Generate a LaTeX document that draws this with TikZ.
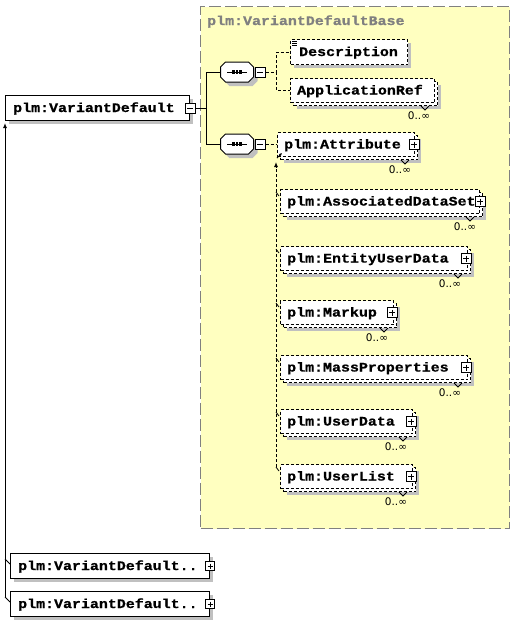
\documentclass[tikz,border=0pt]{standalone}
\usepackage{fontspec}
\newfontfamily\monof[FakeStretch=1.15,FakeBold=0.8]{Liberation Mono}
\newfontfamily\cardf{DejaVu Sans}
\usetikzlibrary{arrows.meta}
\definecolor{yel}{RGB}{255,255,192}
\definecolor{gry}{RGB}{128,128,128}
\definecolor{shd}{RGB}{192,192,192}
\tikzset{
 elbox/.style={draw, fill=white, line width=1pt, inner sep=0pt, anchor=north west, rectangle},
 delbox/.style={elbox, dash pattern=on 3pt off 2pt},
 eltext/.style={font={\fontsize{13}{15}\selectfont\monof\bfseries}, inner sep=0pt, anchor=base west},
 card/.style={font={\fontsize{10.5}{11}\selectfont\cardf}, inner sep=0pt},
 plusb/.style={draw, fill=white, solid, line width=0.8pt, minimum size=#1, inner sep=0pt,
   path picture={\draw[line width=0.8pt] ([xshift=2pt]path picture bounding box.west) -- ([xshift=-2pt]path picture bounding box.east)
   ([yshift=-2pt]path picture bounding box.north) -- ([yshift=2pt]path picture bounding box.south);}},
 plusb/.default=10pt,
 minusb/.style={draw, fill=white, solid, line width=0.8pt, minimum size=10pt, inner sep=0pt,
   path picture={\draw[line width=0.8pt] ([xshift=2pt]path picture bounding box.west) -- ([xshift=-2pt]path picture bounding box.east);}},
 seqbox/.style={rectangle, minimum width=33pt, minimum height=20pt, inner sep=0pt},
 conn/.style={line width=1pt},
 dconn/.style={line width=1pt, dash pattern=on 3pt off 2pt},
 tip/.style={-{Latex[length=5pt,width=4pt]}},
}
\newcommand\octa[2]{% #1 centre node, #2 offset
 ([shift={(-16.5+#2,-5+#2)}]#1.center) -- ([shift={(-11.5+#2,-10+#2)}]#1.center) --
 ([shift={(11.5+#2,-10+#2)}]#1.center) -- ([shift={(16.5+#2,-5+#2)}]#1.center) --
 ([shift={(16.5+#2,5+#2)}]#1.center) -- ([shift={(11.5+#2,10+#2)}]#1.center) --
 ([shift={(-11.5+#2,10+#2)}]#1.center) -- ([shift={(-16.5+#2,5+#2)}]#1.center) -- cycle}
\newcommand\multel[6]{%
 \fill[shd] (#2+7,#3+7) rectangle ++(#4,24);
 \node[delbox, minimum width=#4pt, minimum height=24pt] (#1b) at (#2+3,#3+3) {};
 \node[delbox, minimum width=#4pt, minimum height=24pt] (#1) at (#2,#3) {};
 \node[eltext] (#1t) at ([shift={(7,4)}]#1.west) {#5};
 \draw[line width=0.8pt] ([xshift=-17pt]#1b.south east) -- ++(4,4) -- ++(4,-4);
 \node[card] (#1c) at (#6,#3+38) {0..∞};
}
\newcommand\seqsymbol[3]{%
 \node[seqbox] (#1) at (#2,#3) {};
 \fill[shd] \octa{#1}{4};
 \draw[line width=1pt, fill=white] \octa{#1}{0};
 \draw[line width=1pt] ([xshift=-10pt]#1.center) -- ([xshift=10pt]#1.center);
 \fill ([shift={(-5.2,-1.6)}]#1.center) rectangle ++(2.8,3.2);
 \fill ([shift={(-1.4,-1.6)}]#1.center) rectangle ++(2.8,3.2);
 \fill ([shift={(2.4,-1.6)}]#1.center) rectangle ++(2.8,3.2);
 \node[minusb, anchor=west] (#1m) at ([xshift=1pt]#1.east) {};
}
\begin{document}
\begin{tikzpicture}[x=1pt,y=-1pt]
\useasboundingbox (0,0) rectangle (515,622);
% base type region
\node[draw=gry, fill=yel, line width=1pt, dash pattern=on 12pt off 4pt, anchor=north west,
  minimum width=309pt, minimum height=522pt, inner sep=0pt] (base) at (200,6) {};
\node[eltext, text=gry] (title) at (207,25) {plm:VariantDefaultBase};

% main element
\fill[shd] (9,99) rectangle ++(184,25);
\node[elbox, minimum width=184pt, minimum height=25pt] (vd) at (5,95) {};
\node[eltext] (vdt) at ([shift={(8,4)}]vd.west) {plm:VariantDefault};
\node[minusb] (vdm) at (vd.east) {};

% sequences
\seqsymbol{seqa}{237}{72}
\seqsymbol{seqb}{237}{144}
\coordinate (j0) at ([xshift=11pt]vdm.east);
\draw[conn] (vdm.east) -- (j0) |- (seqa.west);
\draw[conn] (j0) |- (seqb.west);

% Description
\fill[shd] (294,43) rectangle ++(117,25);
\node[delbox, minimum width=117pt, minimum height=25pt] (desc) at (290,39) {};
\node[eltext] (desct) at ([shift={(9,4)}]desc.west) {Description};
\draw[line width=0.7pt] ([shift={(2,2)}]desc.north west) -- ++(5,0)
  ([shift={(2,4)}]desc.north west) -- ++(5,0)
  ([shift={(2,6)}]desc.north west) -- ++(5,0);

% ApplicationRef
\multel{appref}{290}{78}{144}{ApplicationRef}{419}
\coordinate (j1) at ([xshift=11pt]seqam.east);
\draw[dconn] (seqam.east) -- (j1) |- (desc.west);
\draw[dconn] (j1) |- (appref.west);

% substitution group
\multel{attr}{277}{132}{137}{plm:Attribute}{400}
\node[plusb] (attrp) at ([xshift=-1pt]attr.east) {};
\draw[dconn] (seqbm.east) -- (seqbm.east -| attr.west);

\multel{assoc}{280}{189}{199}{plm:AssociatedDataSet}{465}
\node[plusb] (assocp) at (assoc.east) {};
\multel{entity}{280}{246}{187}{plm:EntityUserData}{450}
\node[plusb] (entityp) at ([xshift=-2pt]entity.east) {};
\multel{markup}{280}{300}{113}{plm:Markup}{377}
\node[plusb] (markupp) at ([xshift=-2pt]markup.east) {};
\multel{mass}{280}{355}{187}{plm:MassProperties}{450}
\node[plusb] (massp) at ([xshift=-2pt]mass.east) {};
\multel{udata}{280}{409}{132}{plm:UserData}{396}
\node[plusb] (udatap) at ([xshift=-2pt]udata.east) {};
\multel{ulist}{280}{464}{132}{plm:UserList}{396}
\node[plusb] (ulistp) at ([xshift=-2pt]ulist.east) {};

\coordinate (sTop) at (276,162);
\coordinate (sBot) at ([shift={(-4,3)}]ulist.north west);
\draw[dconn, tip] (sBot) -- (sTop);
\draw[line width=0.8pt, -{Latex[length=3pt,width=3pt]}] (277,158) -- (282,153);
\foreach \n in {assoc,entity,markup,mass,udata,ulist}{
  \draw[line width=0.8pt] ([shift={(-4,3)}]\n.north west) -- ([shift={(-1,7)}]\n.north west);
}

% derived types
\fill[shd] (14,557) rectangle ++(199,25);
\node[elbox, minimum width=199pt, minimum height=25pt] (vdx) at (10,553) {};
\node[eltext] (vdxt) at ([shift={(8,4)}]vdx.west) {plm:VariantDefault..};
\node[plusb=9pt] (vdxp) at (vdx.east) {};
\fill[shd] (14,595) rectangle ++(199,25);
\node[elbox, minimum width=199pt, minimum height=25pt] (vdy) at (10,591) {};
\node[eltext] (vdyt) at ([shift={(8,4)}]vdy.west) {plm:VariantDefault..};
\node[plusb=9pt] (vdyp) at (vdy.east) {};

\coordinate (lTop) at ([yshift=-2pt]vd.south west);
\coordinate (lBot) at ([shift={(-5,6)}]vdy.north west);
\draw[conn, tip] (lBot) -- (lTop);
\draw[line width=0.8pt] (lBot) -- ([shift={(0,11)}]vdy.north west);
\draw[line width=0.8pt] ([shift={(-5,6)}]vdx.north west) -- ([shift={(0,11)}]vdx.north west);
\end{tikzpicture}
\end{document}
